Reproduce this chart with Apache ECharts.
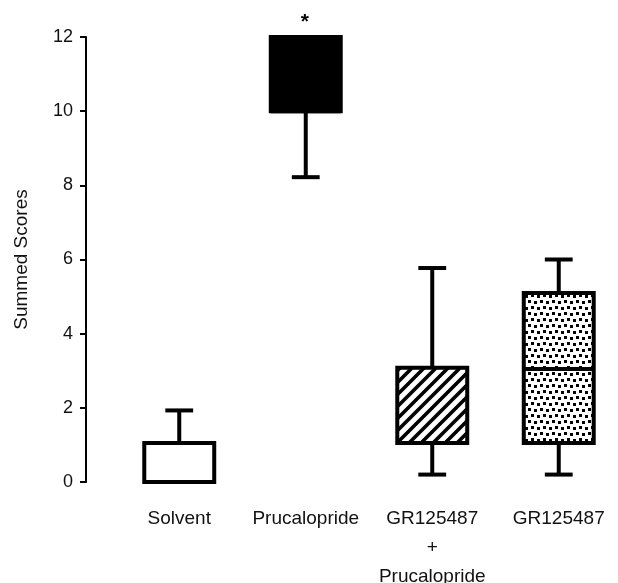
<!DOCTYPE html>
<html><head><meta charset="utf-8">
<script src="https://cdn.jsdelivr.net/npm/echarts@6/dist/echarts.min.js"></script>
<style>html,body{margin:0;padding:0;background:#fff}#c{width:618px;height:583px}</style>
</head><body><div id="c"></div>
<script>
// ---- data ----
const categories = ['Solvent', 'Prucalopride', 'GR125487\n+\nPrucalopride', 'GR125487'];
const whiskerLow  = [0,    8.22, 0.2,  0.2];
const boxLow      = [0,    10,   1.05, 1.05];
const medians     = [0,    10,   1.05, 3.05];
const boxHigh     = [1.05, 12,   3.08, 5.1];
const whiskerHigh = [1.93, 12,   5.77, 6.0];
const fillKinds   = ['plain', 'solid', 'hatch', 'dots'];
const markers     = ['', '*', '', ''];
const yAxisMin = 0, yAxisMax = 12, yAxisStep = 2;

// ---- patterns ----
function hatchTile() {
  const c = document.createElement('canvas'); c.width = 12; c.height = 12;
  const g = c.getContext('2d');
  g.fillStyle = '#fff'; g.fillRect(0, 0, 12, 12);
  g.strokeStyle = '#000'; g.lineWidth = 3.6; g.lineCap = 'square';
  g.beginPath();
  g.moveTo(-3, 15); g.lineTo(15, -3);
  g.moveTo(-3, 3); g.lineTo(3, -3);
  g.moveTo(9, 15); g.lineTo(15, 9);
  g.stroke();
  return c;
}
function dotTile() {
  const c = document.createElement('canvas'); c.width = 12; c.height = 12;
  const g = c.getContext('2d');
  g.fillStyle = '#fff'; g.fillRect(0, 0, 12, 12);
  g.fillStyle = '#000';
  [[0, 0], [6, 1], [3, 6], [9, 7]].forEach(p => g.fillRect(p[0], p[1], 3, 3));
  return c;
}
const fills = {
  plain: '#fff',
  solid: '#000',
  hatch: { image: hatchTile(), repeat: 'repeat' },
  dots: { image: dotTile(), repeat: 'repeat' }
};

const seriesData = categories.map((c, i) =>
  [i, whiskerLow[i], boxLow[i], medians[i], boxHigh[i], whiskerHigh[i]]);

function renderItem(params, api) {
  const i = api.value(0);
  const band = api.size([1, 0])[0];
  const cx = api.coord([i, 0])[0];
  const yMin = api.coord([i, api.value(1)])[1];
  const yQ1 = api.coord([i, api.value(2)])[1];
  const yMed = api.coord([i, api.value(3)])[1];
  const yQ3 = api.coord([i, api.value(4)])[1];
  const yMax = api.coord([i, api.value(5)])[1];
  const bw = band * 0.553, cw = band * 0.22;
  const ls = { stroke: '#000', lineWidth: 4 };
  const ch = [];
  if (yQ3 - yMax > 1) {
    ch.push({ type: 'line', shape: { x1: cx, y1: yQ3, x2: cx, y2: yMax }, style: ls });
    ch.push({ type: 'line', shape: { x1: cx - cw / 2, y1: yMax, x2: cx + cw / 2, y2: yMax }, style: ls });
  }
  if (yMin - yQ1 > 1) {
    ch.push({ type: 'line', shape: { x1: cx, y1: yQ1, x2: cx, y2: yMin }, style: ls });
    ch.push({ type: 'line', shape: { x1: cx - cw / 2, y1: yMin, x2: cx + cw / 2, y2: yMin }, style: ls });
  }
  ch.push({ type: 'rect', shape: { x: cx - bw / 2, y: yQ3, width: bw, height: yQ1 - yQ3 },
    style: { fill: fills[fillKinds[i]], stroke: '#000', lineWidth: 4, lineJoin: 'miter' } });
  ch.push({ type: 'line', shape: { x1: cx - bw / 2, y1: yMed, x2: cx + bw / 2, y2: yMed }, style: ls });
  if (markers[i]) {
    ch.push({ type: 'text', x: cx - 1, y: yMax - 15,
      style: { text: markers[i], fill: '#000', font: 'bold 21px "Liberation Sans", Arial', align: 'center', verticalAlign: 'middle' } });
  }
  return { type: 'group', children: ch };
}

const chart = echarts.init(document.getElementById('c'), null, { renderer: 'canvas' });
chart.setOption({
  animation: false,
  backgroundColor: '#fff',
  textStyle: { fontFamily: '"Liberation Sans", Arial, sans-serif', color: '#111' },
  grid: { left: 116, right: -4, top: 37, bottom: 101, containLabel: false, outerBoundsMode: 'none' },
  xAxis: {
    type: 'category', data: categories,
    axisLine: { show: false }, axisTick: { show: false }, splitLine: { show: false },
    axisLabel: { interval: 0, fontSize: 19, lineHeight: 29, margin: 22, color: '#111' }
  },
  yAxis: {
    type: 'value', min: yAxisMin, max: yAxisMax, interval: yAxisStep, offset: 30,
    name: 'Summed Scores', nameLocation: 'middle', nameGap: 55, nameRotate: 90,
    nameTextStyle: { fontSize: 19, color: '#111' },
    axisLine: { show: true, lineStyle: { color: '#000', width: 2 } },
    axisTick: { show: true, length: 6, lineStyle: { color: '#000', width: 2 } },
    splitLine: { show: false },
    axisLabel: { fontSize: 18, margin: 13, color: '#111' }
  },
  series: [{
    type: 'custom', renderItem: renderItem, data: seriesData, clip: false,
    encode: { x: 0, y: [1, 2, 3, 4, 5] }
  }]
});
</script></body></html>
